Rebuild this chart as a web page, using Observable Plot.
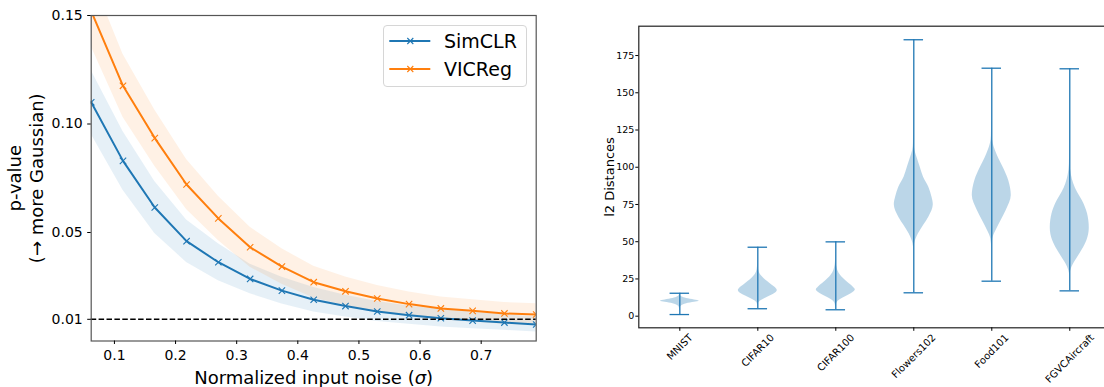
<!DOCTYPE html>
<html><head><meta charset="utf-8">
<script src="https://cdn.jsdelivr.net/npm/d3@7"></script>
<script src="https://cdn.jsdelivr.net/npm/@observablehq/plot@0.6"></script>
<style>
html,body{margin:0;padding:0;background:#fff;overflow:hidden;}
#wrap{position:relative;width:1120px;height:387px;font-family:"DejaVu Sans";}
#left{position:absolute;left:0;top:0;}
#right{position:absolute;left:560px;top:0;}
#legend{position:absolute;left:382.7px;top:25px;width:142px;height:60px;border:1px solid #d6d6d6;border-radius:4px;background:rgba(255,255,255,0.85);}
</style></head><body>
<div id="wrap"><div id="left"></div><div id="right"></div><div id="legend"></div></div>
<script>
// ---------- Left panel data ----------
const noise = [0.062,0.114,0.166,0.218,0.27,0.322,0.374,0.426,0.478,0.53,0.582,0.634,0.686,0.738,0.79];
const simclr = [0.110,0.0830,0.0615,0.0460,0.0363,0.0286,0.0232,0.0190,0.0161,0.0136,0.0119,0.0105,0.0094,0.0085,0.0076];
const simclrSd = [0.0147,0.0135,0.012,0.0098,0.0085,0.0068,0.0062,0.0056,0.005,0.0046,0.0042,0.004,0.0038,0.0036,0.0035];
const vicreg = [0.152,0.1176,0.0935,0.0721,0.0565,0.0432,0.0343,0.0271,0.0229,0.0196,0.0170,0.0150,0.0139,0.0127,0.0122];
const vicregSd = [0.0163,0.0145,0.013,0.0115,0.0102,0.0092,0.0082,0.0073,0.0066,0.006,0.0056,0.0053,0.0051,0.005,0.005];
const models = ["SimCLR","VICReg"];
const modelColors = ["#1f77b4","#ff7f0e"];
const leftYTicks = [0.01,0.05,0.10,0.15];
const leftXTicks = [0.1,0.2,0.3,0.4,0.5,0.6,0.7];
const thresholdP = 0.01;

// ---------- Right panel data ----------
const datasets = ["MNIST","CIFAR10","CIFAR100","Flowers102","Food101","FGVCAircraft"];
const mins = [1.1,5.0,4.3,15.7,23.5,17.0];
const maxs = [15.4,46.3,49.9,185.6,166.5,166.1];
// violin profiles: values and relative half-widths
const mnistV = [1.1,5.5,7,8.3,9.3,10.0,10.8,11.8,12.8,14,15.4];
const mnistW = [0,0.02,0.1,0.35,0.75,1.0,0.75,0.35,0.12,0.03,0];
const cifar10V = [5.0,8,9.5,11,13,15,17.3,19,21,23.3,25.5,28,31,35,46.3];
const cifar10W = [0,0.02,0.08,0.25,0.55,0.85,1.0,0.92,0.72,0.5,0.3,0.13,0.04,0.01,0];
const cifar100V = [4.3,8,10,12,14,16,17.7,19.5,22,24,26.5,29,32,36,42,49.9];
const cifar100W = [0,0.03,0.12,0.35,0.65,0.9,1.0,0.9,0.68,0.5,0.3,0.16,0.07,0.02,0.005,0];
const flowersV = [15.7,44,48.6,55.3,60.9,66.5,74.8,80,86.6,93.3,100,106,111,116,130,185.6];
const flowersW = [0,0.005,0.04,0.24,0.5,0.77,1.0,0.93,0.77,0.5,0.33,0.18,0.06,0.02,0.005,0];
const foodV = [23.5,45,52,57.5,64.2,71,81,91,100,106,111,116,121,135,166.5];
const foodW = [0,0.005,0.05,0.22,0.48,0.74,1.0,0.87,0.58,0.35,0.19,0.07,0.02,0.005,0];
const fgvcV = [17.0,27,30.7,35.2,41.9,50.8,59.1,68.7,77.7,83,88.9,95,102,115,166.1];
const fgvcW = [0,0.005,0.05,0.2,0.52,0.88,1.0,0.91,0.64,0.4,0.2,0.08,0.02,0.005,0];
const profV = [mnistV,cifar10V,cifar100V,flowersV,foodV,fgvcV];
const profW = [mnistW,cifar10W,cifar100W,flowersW,foodW,fgvcW];
const rightYTicks = [0,25,50,75,100,125,150,175];

// ---------- Left chart ----------
const lineData = [];
noise.forEach((x,i)=>{
  lineData.push({model:"SimCLR", x, y:simclr[i], sd:simclrSd[i]});
  lineData.push({model:"VICReg", x, y:vicreg[i], sd:vicregSd[i]});
});
const baseStyle = {fontFamily:"DejaVu Sans", background:"transparent", overflow:"visible", maxWidth:"none", color:"#000"};

const left = Plot.plot({
  width:560, height:387, marginLeft:90.7, marginRight:24.3, marginTop:15, marginBottom:46.5,
  style: baseStyle,
  x:{domain:[noise[0], noise[noise.length-1]]},
  y:{domain:[0,0.15]},
  color:{domain:models, range:modelColors},
  marks:[
    Plot.areaY(lineData, {x:"x", y1:d=>d.y-d.sd, y2:d=>d.y+d.sd, fill:"model", fillOpacity:0.11, clip:true}),
    Plot.line(lineData, {x:"x", y:"y", stroke:"model", strokeWidth:2, clip:true}),
    Plot.dot(lineData, {x:"x", y:"y", stroke:"model", symbol:"times", r:3, strokeWidth:1.1, clip:true}),
    Plot.ruleY([thresholdP], {stroke:"black", strokeDasharray:"5.5,2.4", strokeWidth:1.5}),
    Plot.frame({stroke:"#555", strokeWidth:1.2}),
    Plot.axisY(leftYTicks, {tickSize:3.5, tickPadding:5, tickFormat:d3.format(".2f"), fontSize:14, label:null}),
    Plot.axisX(leftXTicks, {tickSize:3.5, tickPadding:5.4, tickFormat:d3.format(".1f"), fontSize:14, label:null}),
    Plot.text(["p-value"], {frameAnchor:"left", rotate:-90, dx:-75.7, fontSize:18, textAnchor:"middle", lineAnchor:"middle"}),
    Plot.text(["(→ more Gaussian)"], {frameAnchor:"left", rotate:-90, dx:-53.7, fontSize:18, textAnchor:"middle", lineAnchor:"middle"}),
    Plot.text(["Normalized input noise (σ)"], {frameAnchor:"bottom", dy:37.5, fontSize:18, textAnchor:"middle", lineAnchor:"middle"})
  ]
});
document.getElementById("left").appendChild(left);
left.querySelectorAll("text").forEach(t=>{
  if (t.textContent === "Normalized input noise (σ)") {
    t.innerHTML = 'Normalized input noise (<tspan font-style="italic">σ</tspan>)';
  }
});

// ---------- Legend ----------
const legend = document.getElementById("legend");
models.forEach((m,i)=>{
  const cy = 14.7 + i*28.6;
  const row = document.createElement("div");
  row.style.cssText = `position:absolute;left:0;top:${cy-14}px;height:28px;width:140px;`;
  row.innerHTML = `<svg width="50" height="28" style="position:absolute;left:0;top:0">
    <line x1="5.3" x2="46.3" y1="14" y2="14" stroke="${modelColors[i]}" stroke-width="2"/>
    <path d="M23.3,11L29.3,17M23.3,17L29.3,11" stroke="${modelColors[i]}" stroke-width="1.1"/></svg>
    <span style="position:absolute;left:60.3px;top:0;line-height:28px;font-size:19px;font-family:'DejaVu Sans';color:#000">${m}</span>`;
  legend.appendChild(row);
});

// ---------- Right chart ----------
const positions = datasets.map((d,i)=>i+1);
const violinPts = [];
datasets.forEach((c,i)=>{
  profV[i].forEach((v,j)=>violinPts.push({cat:c, pos:positions[i], v, w:profW[i][j]}));
});
const stats = datasets.map((c,i)=>({cat:c, pos:positions[i], min:mins[i], max:maxs[i]}));

const ctx = document.createElement("canvas").getContext("2d");
ctx.font = "10px 'DejaVu Sans'";
const labelMarks = datasets.map((c,i)=>{
  const L = ctx.measureText(c).width;
  const dy = 5.7 + (L + 7) * 0.3536;
  return Plot.text([c], {x:positions[i], frameAnchor:"bottom", dy, rotate:-45, fontSize:10, textAnchor:"middle", lineAnchor:"middle"});
});

const blue = "#1f77b4";
const right = Plot.plot({
  width:560, height:387, marginLeft:78.3, marginRight:9.7, marginTop:25.7, marginBottom:59.7,
  style: baseStyle,
  x:{domain:[0.474,6.526]},
  y:{domain:[-7.8,194.7]},
  marks:[
    Plot.areaX(violinPts, {y:"v", x1:d=>d.pos-0.25*d.w, x2:d=>d.pos+0.25*d.w, z:"cat", fill:blue, fillOpacity:0.3, curve:"monotone-y"}),
    Plot.ruleX(stats, {x:"pos", y1:"min", y2:"max", stroke:blue, strokeWidth:1.3}),
    Plot.ruleY(stats, {y:"min", x1:d=>d.pos-0.125, x2:d=>d.pos+0.125, stroke:blue, strokeWidth:1.3}),
    Plot.ruleY(stats, {y:"max", x1:d=>d.pos-0.125, x2:d=>d.pos+0.125, stroke:blue, strokeWidth:1.3}),
    Plot.frame({stroke:"#222", strokeWidth:1.2}),
    Plot.axisY(rightYTicks, {tickSize:3, tickPadding:1.5, fontSize:9.5, label:null}),
    Plot.axisX(positions, {tickSize:3.5, tickFormat:()=>"", label:null}),
    ...labelMarks,
    Plot.text(["l2 Distances"], {frameAnchor:"left", rotate:-90, dx:-29.3, fontSize:13, textAnchor:"middle", lineAnchor:"middle"})
  ]
});
document.getElementById("right").appendChild(right);
</script>
</body></html>
